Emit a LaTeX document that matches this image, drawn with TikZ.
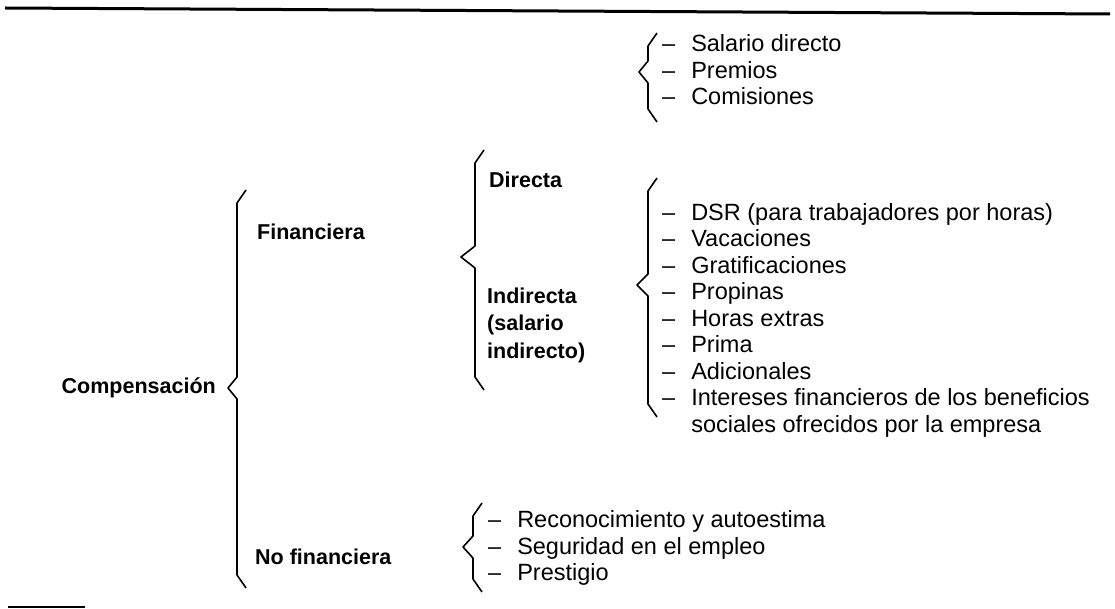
\documentclass[tikz,border=0pt]{standalone}
\usepackage{fontspec}
\setmainfont{Liberation Sans}
\usetikzlibrary{positioning}
% angular brace: x, top y, tip x, tip y, bottom y
\newcommand{\brk}[5]{%
  \draw[brc] (#1+9,#2) -- (#1,#2+13) -- (#1,#4-11) -- (#3,#4) -- (#1,#4+11) -- (#1,#5-13) -- (#1+9,#5);}

\begin{document}
\begin{tikzpicture}[x=1pt, y=-1pt,
    lbl/.style={font=\fontsize{21.5}{27.5}\selectfont\bfseries, anchor=west, inner sep=0pt, align=left},
    lst/.style={font=\fontsize{23.5}{26.5}\selectfont, anchor=west, inner sep=0pt},
    brc/.style={line width=1.6pt, line join=round}]
  \useasboundingbox (0,0) rectangle (1115,609);
  \draw[line width=3pt] (5,8) -- (1110,14);
  \draw[line width=1.5pt] (8,607) -- (85,607);

  \node[lbl, anchor=east] (comp) at (216,388) {Compensación};
  \node[lbl] (fin) at (257,232) {Financiera};
  \node[lbl] (nofin) at (255,557) {No financiera};
  \node[lbl] (dir) at (489,180) {Directa};
  \node[lbl] (ind) at (487,325) {Indirecta\\(salario\\indirecto)};

  \node[lst] (dirlist) at (662,73) {\begin{tabular}{@{}l@{\hspace{16pt}}l@{}}
    – & Salario directo\\
    – & Premios\\
    – & Comisiones
  \end{tabular}};
  \node[lst] (indlist) at (662,321) {\begin{tabular}{@{}l@{\hspace{16pt}}l@{}}
    – & DSR (para trabajadores por horas)\\
    – & Vacaciones\\
    – & Gratificaciones\\
    – & Propinas\\
    – & Horas extras\\
    – & Prima\\
    – & Adicionales\\
    – & Intereses financieros de los beneficios\\
      & sociales ofrecidos por la empresa
  \end{tabular}};
  \node[lst] (nflist) at (488,549) {\begin{tabular}{@{}l@{\hspace{16pt}}l@{}}
    – & Reconocimiento y autoestima\\
    – & Seguridad en el empleo\\
    – & Prestigio
  \end{tabular}};

  \brk{237}{190}{228}{388}{588}
  \brk{475}{150}{461}{257}{390}
  \brk{648}{33}{639}{72}{122}
  \brk{648}{178}{637}{285}{417}
  \brk{473}{503}{463}{547}{592}
\end{tikzpicture}
\end{document}
